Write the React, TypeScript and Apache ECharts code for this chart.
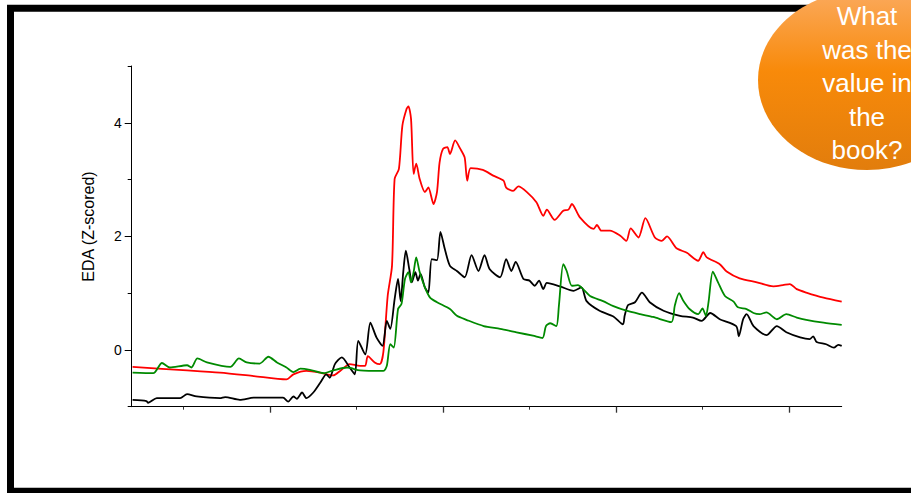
import React, { useEffect, useRef } from "react";
import * as echarts from "echarts";

// Time axis (arbitrary units), EDA z-scores
const redPoints: [number, number][] = [
  [4.1, -0.3], [10.4, -0.36], [14.2, -0.4], [18.1, -0.46], [21.9, -0.52], [22.7, -0.43], [24.2, -0.37],
  [25.8, -0.4], [27.3, -0.45], [28.1, -0.37], [29.2, -0.25], [30.4, -0.28], [31.0, -0.28], [31.3, -0.11],
  [32.1, -0.22], [32.7, -0.25], [33.1, -0.04], [33.6, 0.95], [34.1, 1.48], [34.4, 3.01], [34.9, 3.19],
  [35.3, 3.95], [35.8, 4.25], [36.0, 4.29], [36.3, 4.07], [36.6, 3.1], [36.9, 3.28], [37.3, 3.01],
  [37.9, 2.78], [38.3, 2.86], [38.9, 2.57], [39.3, 2.78], [39.6, 3.3], [40.0, 3.54], [40.5, 3.57],
  [40.8, 3.45], [41.4, 3.69], [42.0, 3.54], [42.5, 3.39], [42.8, 2.98], [43.2, 3.2], [44.6, 3.17],
  [45.8, 3.07], [47.0, 2.98], [47.3, 2.86], [48.1, 2.8], [48.7, 2.88], [49.7, 2.78], [50.8, 2.6],
  [51.6, 2.36], [52.0, 2.47], [52.9, 2.29], [53.9, 2.45], [54.5, 2.47], [54.9, 2.57], [55.8, 2.34],
  [57.4, 2.13], [57.8, 2.2], [58.3, 2.1], [59.3, 2.1], [60.5, 2.01], [61.2, 1.92], [61.7, 2.14],
  [62.6, 1.98], [63.4, 2.32], [64.5, 1.98], [65.3, 1.92], [65.9, 2.0], [67.0, 1.79], [68.2, 1.71],
  [69.5, 1.57], [70.1, 1.72], [70.5, 1.63], [72.0, 1.51], [72.8, 1.38], [74.3, 1.26], [76.3, 1.19],
  [78.2, 1.12], [79.3, 1.14], [80.1, 1.16], [80.9, 1.07], [82.0, 1.01], [84.0, 0.92], [86.1, 0.85],
];

const blackPoints: [number, number][] = [
  [4.1, -0.88], [5.7, -0.9], [5.9, -0.93], [6.9, -0.85], [9.6, -0.85], [10.4, -0.78], [11.5, -0.82],
  [14.2, -0.85], [14.8, -0.83], [16.5, -0.88], [18.1, -0.84], [19.6, -0.84], [21.5, -0.84], [22.1, -0.91],
  [22.7, -0.82], [23.1, -0.86], [23.7, -0.75], [24.2, -0.85], [25.0, -0.75], [25.8, -0.58], [26.5, -0.43],
  [26.9, -0.49], [27.5, -0.25], [28.3, -0.13], [29.2, -0.31], [29.8, -0.43], [30.2, 0.16], [31.0, -0.08],
  [31.6, 0.48], [32.3, 0.22], [33.0, 0.07], [33.5, 0.51], [33.9, 0.37], [34.4, 0.89], [34.8, 1.25],
  [35.1, 0.86], [35.4, 1.37], [35.7, 1.75], [36.1, 1.42], [36.4, 1.19], [36.8, 1.37], [37.1, 1.22],
  [37.4, 1.34], [37.9, 1.1], [38.3, 1.01], [38.7, 1.6], [39.3, 1.58], [39.7, 2.08], [40.2, 1.78],
  [40.8, 1.48], [41.6, 1.39], [42.5, 1.28], [43.3, 1.67], [44.1, 1.39], [44.8, 1.67], [45.4, 1.42],
  [46.6, 1.28], [47.3, 1.6], [47.9, 1.39], [48.4, 1.55], [49.3, 1.25], [50.0, 1.22], [50.6, 1.13],
  [51.1, 1.22], [51.6, 1.07], [52.0, 1.18], [53.5, 1.12], [55.1, 1.04], [56.0, 1.1], [56.6, 0.86],
  [58.1, 0.69], [59.7, 0.59], [60.8, 0.45], [61.0, 0.6], [61.4, 0.79], [62.2, 0.84], [63.0, 1.01],
  [63.9, 0.84], [65.5, 0.69], [67.4, 0.6], [68.9, 0.57], [69.9, 0.51], [70.9, 0.65], [72.0, 0.54],
  [73.9, 0.42], [74.2, 0.24], [74.7, 0.54], [75.1, 0.63], [75.9, 0.42], [77.4, 0.26], [78.6, 0.42],
  [79.7, 0.31], [81.3, 0.22], [82.4, 0.19], [82.8, 0.24], [83.2, 0.14], [84.3, 0.1], [85.2, 0.04],
  [85.7, 0.09], [86.1, 0.07],
];

const greenPoints: [number, number][] = [
  [4.1, -0.4], [6.5, -0.41], [7.5, -0.23], [8.4, -0.31], [10.4, -0.27], [10.9, -0.31], [11.6, -0.15],
  [12.7, -0.22], [15.4, -0.3], [16.4, -0.15], [17.3, -0.22], [18.8, -0.24], [19.8, -0.12], [20.8, -0.22],
  [21.9, -0.31], [22.7, -0.39], [23.5, -0.33], [24.6, -0.35], [26.2, -0.41], [27.3, -0.36], [28.9, -0.31],
  [30.4, -0.36], [33.1, -0.37], [33.5, -0.28], [33.9, 0.1], [34.3, 0.04], [34.8, 0.72], [35.2, 0.81],
  [35.6, 1.25], [36.0, 1.37], [36.3, 1.19], [36.6, 1.37], [36.9, 1.63], [37.3, 1.37], [37.9, 1.1],
  [38.5, 0.92], [39.3, 0.84], [40.8, 0.72], [41.6, 0.6], [42.7, 0.53], [44.7, 0.42], [46.6, 0.37],
  [48.5, 0.31], [50.4, 0.25], [51.5, 0.21], [51.9, 0.42], [52.4, 0.47], [53.1, 0.42], [53.4, 0.78],
  [53.9, 1.51], [54.3, 1.39], [54.9, 1.13], [55.6, 1.14], [56.2, 1.07], [57.0, 0.95], [58.5, 0.86],
  [59.7, 0.77], [61.2, 0.69], [62.8, 0.63], [64.3, 0.58], [66.4, 0.49], [66.8, 0.78], [67.3, 1.0],
  [67.8, 0.86], [68.5, 0.72], [69.5, 0.63], [70.0, 0.73], [70.4, 0.6], [70.7, 0.84], [71.2, 1.38],
  [71.8, 1.19], [72.6, 0.95], [73.6, 0.85], [74.1, 0.75], [75.1, 0.72], [75.9, 0.65], [76.6, 0.63],
  [77.4, 0.66], [78.6, 0.54], [79.7, 0.63], [80.9, 0.57], [82.0, 0.53], [84.0, 0.48], [86.1, 0.44],
];

const yMajorTicks = [0, 2, 4];
const yMinorTicks = [-1, 1, 3, 5];
const xMajorTicks = [20, 40, 60, 80];
const xMinorTicks = [10, 30, 50, 70];

const yTitle = "EDA (Z-scored)";
const bubbleText = "What\nwas the\nvalue in\nthe\nbook?";

const FONT = "'Liberation Sans', Arial, sans-serif";

export default function App() {
  const ref = useRef<HTMLDivElement>(null);

  useEffect(() => {
    if (!ref.current) return;
    const chart = echarts.init(ref.current, null, { renderer: "svg" });

    const lineSeries = (name: string, data: [number, number][], color: string) => ({
      name,
      type: "line",
      data,
      showSymbol: false,
      smooth: 0.25,
      lineStyle: { color, width: 1.8 },
      itemStyle: { color },
      xAxisIndex: 0,
      yAxisIndex: 0,
    });

    chart.setOption({
      animation: false,
      backgroundColor: "#fff",
      grid: { left: 131.7, right: 69.3, top: 66, bottom: 86.3 },
      xAxis: [
        {
          type: "value",
          min: 4,
          max: 86.1,
          axisLine: { show: true, onZero: false, lineStyle: { color: "#000", width: 1 } },
          axisTick: { show: true, customValues: xMajorTicks, length: 6, lineStyle: { color: "#333", width: 1.3 } },
          axisLabel: { show: false },
          splitLine: { show: false },
        },
        {
          type: "value",
          min: 4,
          max: 86.1,
          position: "bottom",
          axisLine: { show: false, onZero: false },
          axisTick: { show: true, customValues: xMinorTicks, length: 3, lineStyle: { color: "#333", width: 1 } },
          axisLabel: { show: false },
          splitLine: { show: false },
        },
      ],
      yAxis: [
        {
          type: "value",
          min: -1,
          max: 5,
          axisLine: { show: true, onZero: false, lineStyle: { color: "#000", width: 1 } },
          axisTick: { show: true, customValues: yMajorTicks, length: 7, lineStyle: { color: "#000", width: 1 } },
          axisLabel: {
            show: true,
            customValues: yMajorTicks,
            margin: 10,
            color: "#000",
            fontSize: 14,
            fontFamily: FONT,
          },
          splitLine: { show: false },
        },
        {
          type: "value",
          min: -1,
          max: 5,
          position: "left",
          axisLine: { show: false, onZero: false },
          axisTick: { show: true, customValues: yMinorTicks, length: 4, lineStyle: { color: "#000", width: 1 } },
          axisLabel: { show: false },
          splitLine: { show: false },
        },
      ],
      series: [
        lineSeries("Red", redPoints, "#ff0000"),
        lineSeries("Black", blackPoints, "#000000"),
        lineSeries("Green", greenPoints, "#008a00"),
      ],
      graphic: [
        {
          type: "rect",
          z: 100,
          silent: true,
          shape: { x: 10.5, y: 8.3, width: 1000, height: 483 },
          style: { fill: "none", stroke: "#000", lineWidth: 7 },
        },
        {
          type: "text",
          z: 100,
          x: 88,
          y: 226.5,
          rotation: Math.PI / 2,
          style: {
            text: yTitle,
            fill: "#000",
            font: `16px ${FONT}`,
            textAlign: "center",
            textVerticalAlign: "middle",
          },
        },
        {
          type: "ellipse",
          z: 110,
          shape: { cx: 867, cy: 80, rx: 109, ry: 90 },
          style: {
            fill: new echarts.graphic.LinearGradient(0, 0, 0, 1, [
              { offset: 0, color: "#fbaa5e" },
              { offset: 0.45, color: "#f88a0a" },
              { offset: 1, color: "#e27d0c" },
            ]),
            stroke: "none",
          },
        },
        {
          type: "text",
          z: 120,
          x: 867,
          y: 83,
          style: {
            text: bubbleText,
            fill: "#fff",
            font: `26px ${FONT}`,
            lineHeight: 33.5,
            textAlign: "center",
            textVerticalAlign: "middle",
          },
        },
      ],
    });

    return () => chart.dispose();
  }, []);

  return (
    <div
      ref={ref}
      style={{ position: "fixed", left: 0, top: 0, width: 911, height: 493 }}
    />
  );
}
